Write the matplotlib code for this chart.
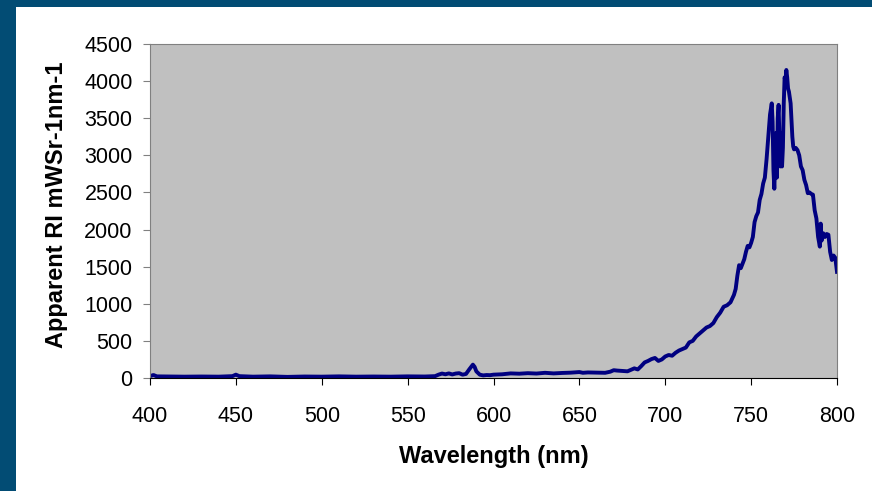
import matplotlib.pyplot as plt
from matplotlib.patches import Rectangle

plt.rcParams['font.family'] = ['Liberation Sans', 'DejaVu Sans']

# spectrum
wavelength = [400, 402, 404, 410, 420, 430, 440, 448, 450, 452, 460, 470, 480, 490, 500,
              510, 520, 530, 540, 550, 560, 566, 568, 570, 572, 574, 576, 578, 580, 582,
              584, 586, 588, 589, 590, 592, 594, 596, 598, 600, 605, 610, 615, 620, 625,
              630, 635, 640, 645, 650, 652, 655, 660, 665, 668, 670, 672, 675, 678, 680,
              682, 684, 686, 688, 690, 692, 694, 696, 698, 700, 702, 704, 706, 708, 710,
              712, 714, 716, 718, 720, 722, 724, 726, 728, 730, 732, 734, 736, 738, 740,
              741, 742, 743, 744, 745, 746, 747, 748, 749, 750, 751, 752, 753, 754, 755,
              756, 757, 758, 759, 760, 761, 762, 762.5, 763, 763.5, 764, 764.5, 765, 765.5, 766,
              766.5, 767, 767.5, 768, 768.5, 769, 769.5, 770, 770.5, 771, 771.5, 772, 773, 773.5, 774,
              774.5, 775, 776, 777, 778, 779, 780, 781, 782, 783, 784, 785, 786, 787, 788,
              789, 790, 790.5, 791, 792, 793, 794, 795, 796, 797, 798, 799, 800]
radiance = [25, 40, 22, 20, 18, 20, 18, 25, 45, 25, 18, 22, 15, 20, 18,
            22, 18, 20, 18, 22, 20, 25, 45, 60, 50, 62, 48, 60, 65, 45,
            55, 120, 180, 150, 90, 45, 35, 40, 38, 45, 50, 62, 58, 65, 60,
            70, 62, 68, 72, 80, 70, 75, 72, 70, 85, 105, 100, 95, 90, 110,
            130, 115, 160, 210, 230, 255, 270, 230, 250, 290, 310, 300, 340, 370, 390,
            410, 480, 500, 560, 600, 640, 680, 700, 740, 820, 880, 960, 980, 1020, 1120,
            1200, 1380, 1520, 1480, 1540, 1600, 1700, 1780, 1760, 1820, 1900, 2100, 2180, 2230, 2400,
            2480, 2620, 2700, 2950, 3250, 3550, 3700, 3450, 2800, 2550, 2900, 3300, 2700, 3500, 3680,
            3200, 2850, 3300, 2850, 3100, 3700, 4050, 4000, 4150, 4050, 3900, 3860, 3700, 3480, 3250,
            3120, 3080, 3100, 3070, 3000, 2850, 2800, 2670, 2600, 2490, 2500, 2480, 2470, 2260, 2150,
            1900, 1770, 2080, 1850, 1950, 1900, 1940, 1930, 1700, 1590, 1650, 1620, 1430]

xticks = [400, 450, 500, 550, 600, 650, 700, 750, 800]
yticks = [0, 500, 1000, 1500, 2000, 2500, 3000, 3500, 4000, 4500]

fig = plt.figure(figsize=(8.72, 4.91), dpi=100)
fig.patch.set_facecolor('#024c74')
fig.patches.append(Rectangle((16 / 872, 0), 1, 484 / 491, transform=fig.transFigure,
                             facecolor='white', edgecolor='none', zorder=-10))

ax = fig.add_axes([150 / 872, 113 / 491, 687 / 872, 334 / 491])
ax.set_facecolor('#c0c0c0')
ax.plot(wavelength, radiance, color='#000080', linewidth=2.8, solid_joinstyle='round')

ax.set_xlim(400, 800)
ax.set_ylim(0, 4500)
ax.set_xticks(xticks)
ax.set_yticks(yticks)
ax.tick_params(axis='x', direction='out', length=5, pad=15, labelsize=15.5, color='black')
ax.tick_params(axis='y', direction='out', length=5, pad=7.5, labelsize=15.5, color='#808080')
for side in ['top', 'right', 'left']:
    ax.spines[side].set_color('#808080')
ax.spines['bottom'].set_color('black')

ax.set_xlabel('Wavelength (nm)', fontsize=17, fontweight='bold')
ax.xaxis.set_label_coords(0.5, -0.2)
ax.set_ylabel('Apparent RI mWSr-1nm-1', fontsize=17, fontweight='bold')
ax.yaxis.set_label_coords(-0.119, 0.518)

fig.savefig('out.png', dpi=100, facecolor=fig.get_facecolor())
